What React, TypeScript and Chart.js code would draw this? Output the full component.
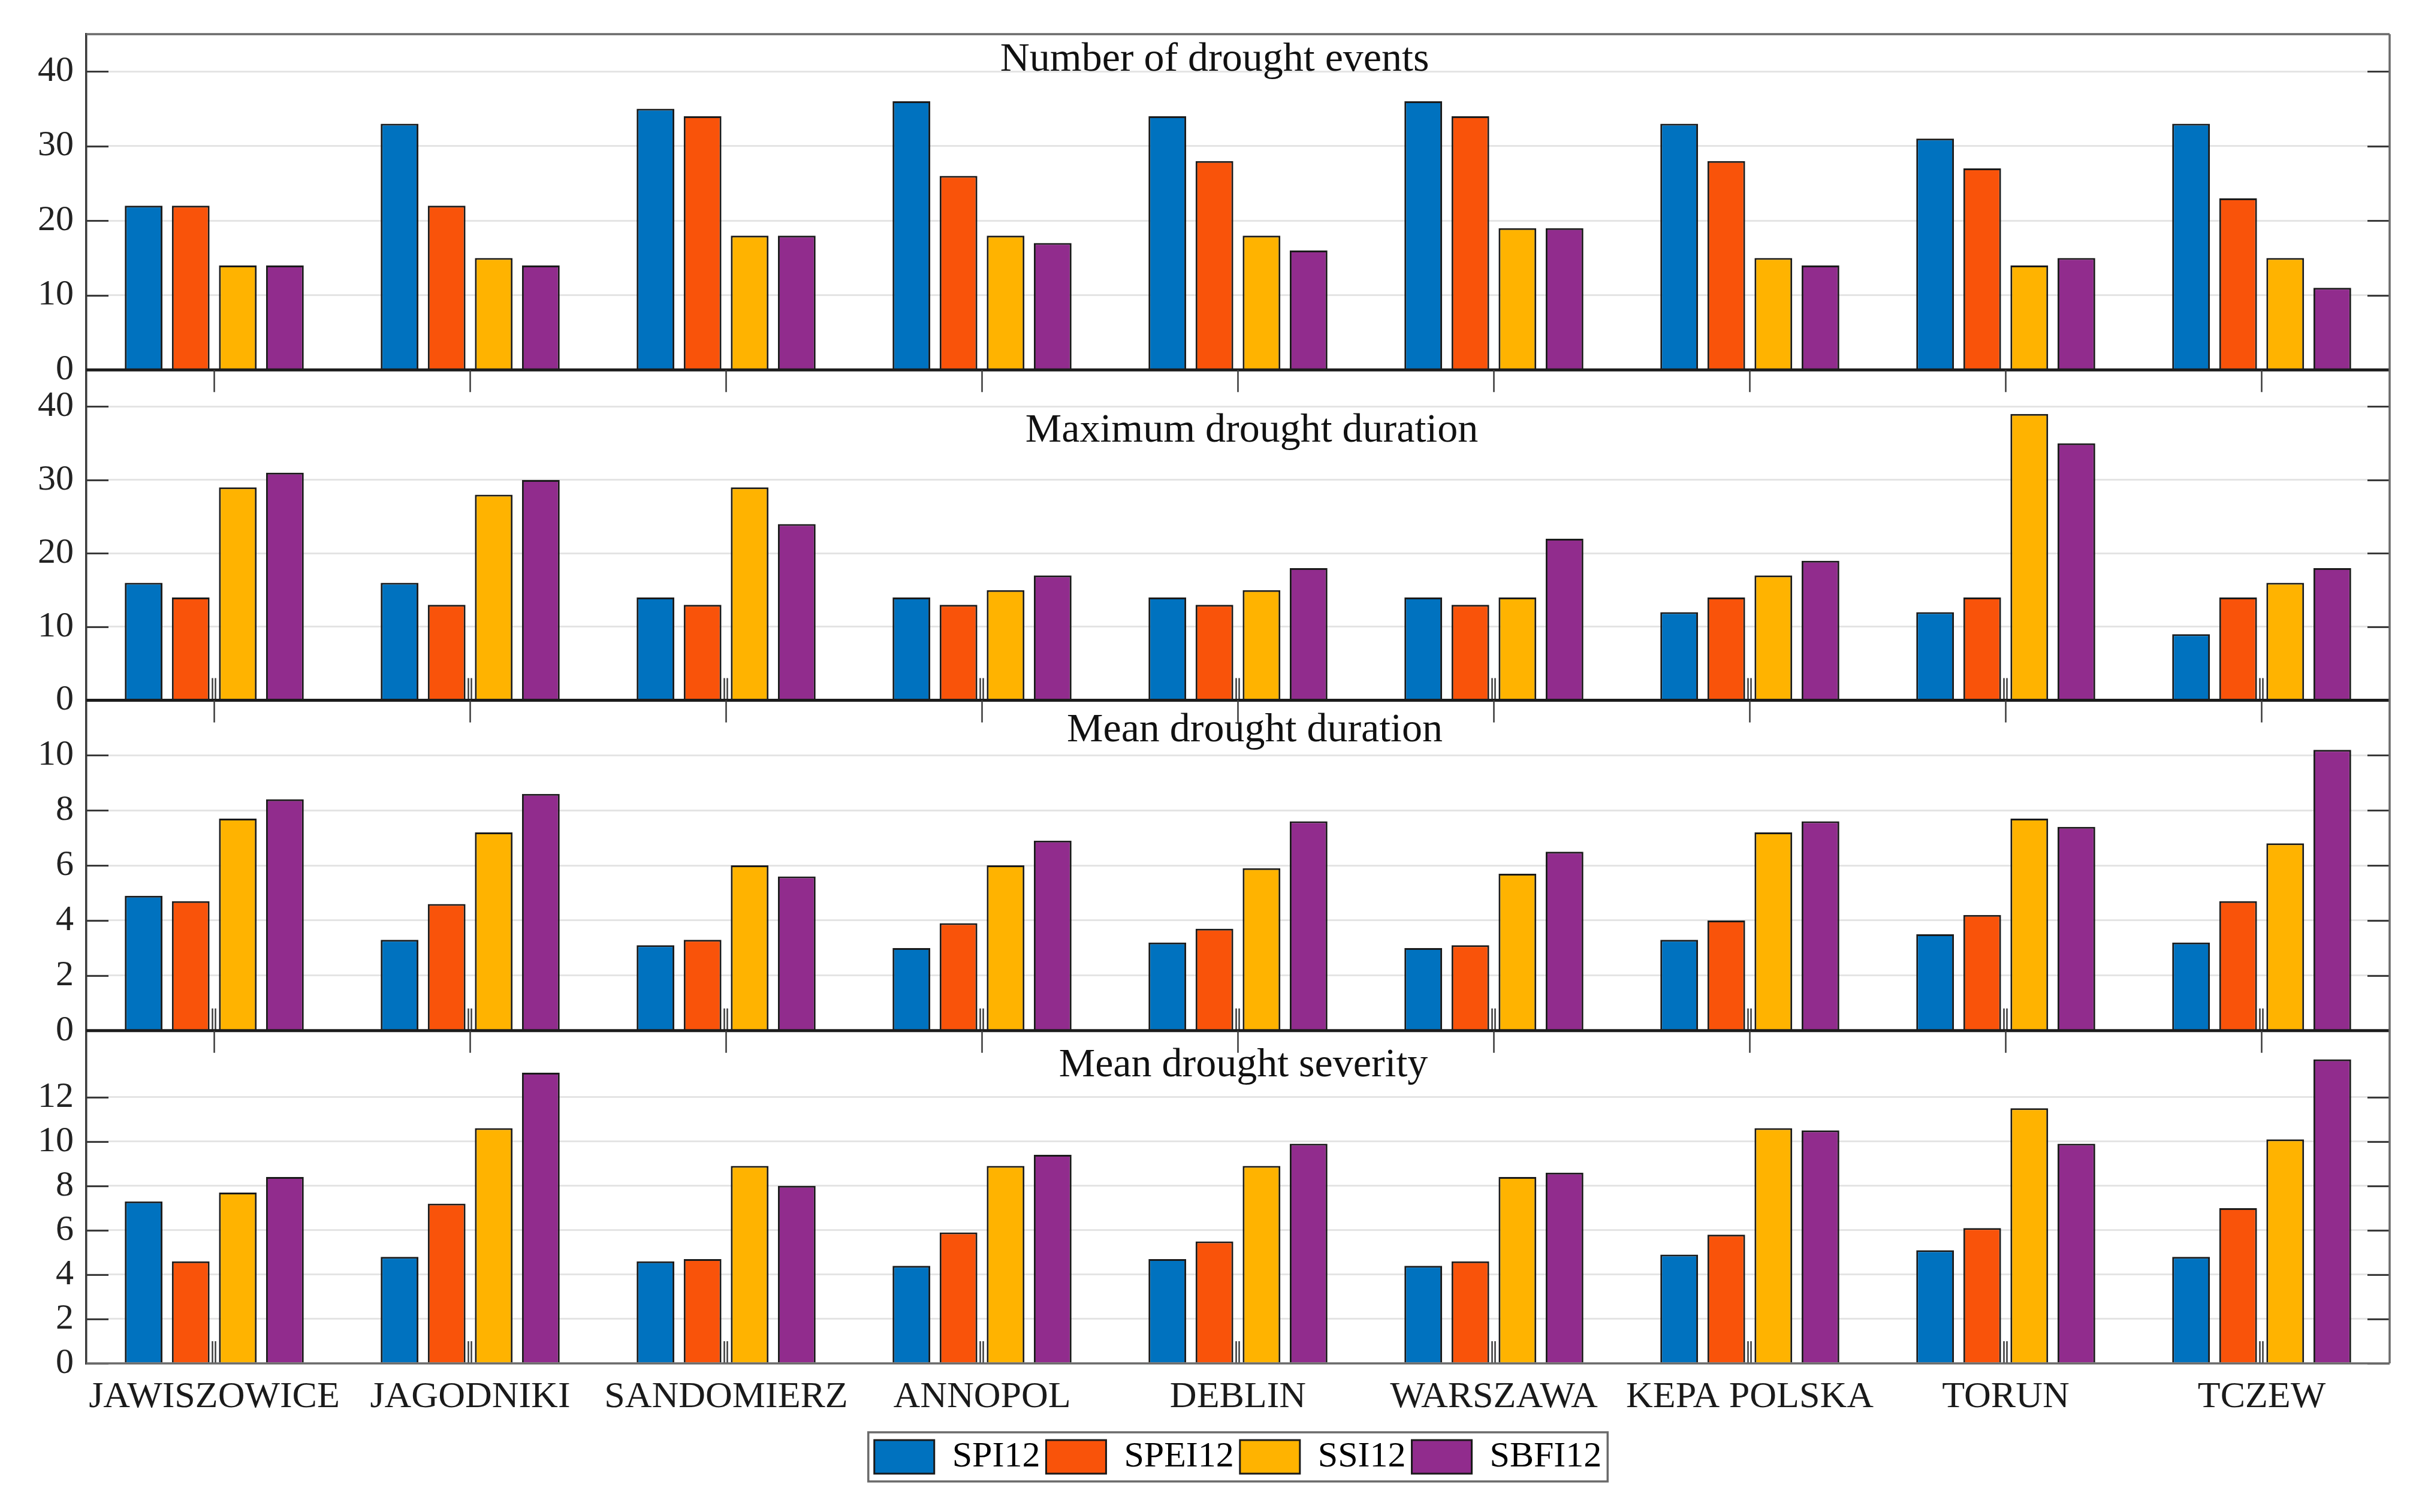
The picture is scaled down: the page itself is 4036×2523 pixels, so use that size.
import React, { useEffect, useRef } from "react";
import { Chart, registerables } from "chart.js";

Chart.register(...registerables);

// ---------------- data ----------------
const stations = [
  "JAWISZOWICE",
  "JAGODNIKI",
  "SANDOMIERZ",
  "ANNOPOL",
  "DEBLIN",
  "WARSZAWA",
  "KEPA POLSKA",
  "TORUN",
  "TCZEW",
];

const seriesNames = ["SPI12", "SPEI12", "SSI12", "SBFI12"];
const seriesColors = ["#0072BF", "#F9530A", "#FFB300", "#912C8D"];

const panelTitles = [
  "Number of drought events",
  "Maximum drought duration",
  "Mean drought duration",
  "Mean drought severity",
];

// Number of drought events
const eventsSPI12 = [22, 33, 35, 36, 34, 36, 33, 31, 33];
const eventsSPEI12 = [22, 22, 34, 26, 28, 34, 28, 27, 23];
const eventsSSI12 = [14, 15, 18, 18, 18, 19, 15, 14, 15];
const eventsSBFI12 = [14, 14, 18, 17, 16, 19, 14, 15, 11];

// Maximum drought duration
const maxDurSPI12 = [16, 16, 14, 14, 14, 14, 12, 12, 9];
const maxDurSPEI12 = [14, 13, 13, 13, 13, 13, 14, 14, 14];
const maxDurSSI12 = [29, 28, 29, 15, 15, 14, 17, 39, 16];
const maxDurSBFI12 = [31, 30, 24, 17, 18, 22, 19, 35, 18];

// Mean drought duration
const meanDurSPI12 = [4.9, 3.3, 3.1, 3.0, 3.2, 3.0, 3.3, 3.5, 3.2];
const meanDurSPEI12 = [4.7, 4.6, 3.3, 3.9, 3.7, 3.1, 4.0, 4.2, 4.7];
const meanDurSSI12 = [7.7, 7.2, 6.0, 6.0, 5.9, 5.7, 7.2, 7.7, 6.8];
const meanDurSBFI12 = [8.4, 8.6, 5.6, 6.9, 7.6, 6.5, 7.6, 7.4, 10.2];

// Mean drought severity
const severitySPI12 = [7.3, 4.8, 4.6, 4.4, 4.7, 4.4, 4.9, 5.1, 4.8];
const severitySPEI12 = [4.6, 7.2, 4.7, 5.9, 5.5, 4.6, 5.8, 6.1, 7.0];
const severitySSI12 = [7.7, 10.6, 8.9, 8.9, 8.9, 8.4, 10.6, 11.5, 10.1];
const severitySBFI12 = [8.4, 13.1, 8.0, 9.4, 9.9, 8.6, 10.5, 9.9, 13.7];

// Axis ranges and tick labels
const panelMax = [45, 45, 12, 15];
const eventsTicks = [0, 10, 20, 30, 40];
const maxDurTicks = [0, 10, 20, 30, 40];
const meanDurTicks = [0, 2, 4, 6, 8, 10];
const severityTicks = [0, 2, 4, 6, 8, 10, 12];

const panelValues = [
  [eventsSPI12, eventsSPEI12, eventsSSI12, eventsSBFI12],
  [maxDurSPI12, maxDurSPEI12, maxDurSSI12, maxDurSBFI12],
  [meanDurSPI12, meanDurSPEI12, meanDurSSI12, meanDurSBFI12],
  [severitySPI12, severitySPEI12, severitySSI12, severitySBFI12],
];
const panelTicks = [eventsTicks, maxDurTicks, meanDurTicks, severityTicks];

// ---------------- style ----------------
const FONT = "Liberation Serif";
const panelWeights = [561, 552, 552, 556];
const titleDx = [-39, 23, 28, 9];
const titleBaseline = [61, 120, 69, 76];
const TICK_LEN = 37;

Chart.defaults.font.family = FONT;

const decorPlugin = {
  id: "panelDecor",
  afterDatasetsDraw(chart: any) {
    const ctx = chart.ctx;
    const area = chart.chartArea;
    const xs = chart.scales.x;
    ctx.save();
    ctx.lineCap = "butt";
    for (let p = 0; p < 4; p++) {
      const s = chart.scales["y" + p];
      // inward y ticks on both sides
      ctx.strokeStyle = "#3a3a3a";
      ctx.lineWidth = 3;
      for (const v of panelTicks[p]) {
        const y = Math.round(s.getPixelForValue(v)) + 0.5;
        ctx.beginPath();
        ctx.moveTo(area.left, y);
        ctx.lineTo(area.left + TICK_LEN, y);
        ctx.moveTo(area.right, y);
        ctx.lineTo(area.right - TICK_LEN, y);
        ctx.stroke();
      }
      // inward category ticks (panels 2-4)
      if (p > 0) {
        ctx.strokeStyle = "#3a3a3a";
        ctx.lineWidth = 2.5;
        for (let j = 0; j < stations.length; j++) {
          const x = xs.getPixelForValue(j);
          ctx.beginPath();
          ctx.moveTo(x, s.top);
          ctx.lineTo(x, s.top + TICK_LEN);
          ctx.moveTo(x - 3, s.bottom);
          ctx.lineTo(x - 3, s.bottom - TICK_LEN);
          ctx.moveTo(x + 2, s.bottom);
          ctx.lineTo(x + 2, s.bottom - TICK_LEN);
          ctx.stroke();
        }
      }
      // baseline
      ctx.beginPath();
      if (p < 3) {
        ctx.strokeStyle = "#1c1c1c";
        ctx.lineWidth = 5;
      } else {
        ctx.strokeStyle = "#6a6a6a";
        ctx.lineWidth = 3.5;
      }
      ctx.moveTo(area.left, s.bottom);
      ctx.lineTo(area.right, s.bottom);
      ctx.stroke();
      // title
      ctx.fillStyle = "#111111";
      ctx.font = "68px " + FONT;
      ctx.textAlign = "center";
      ctx.textBaseline = "alphabetic";
      ctx.fillText(
        panelTitles[p],
        (area.left + area.right) / 2 + titleDx[p],
        s.top + titleBaseline[p]
      );
    }
    // top and right border
    ctx.strokeStyle = "#6a6a6a";
    ctx.lineWidth = 3.5;
    ctx.beginPath();
    ctx.moveTo(area.left, area.top);
    ctx.lineTo(area.right, area.top);
    ctx.moveTo(area.right, area.top);
    ctx.lineTo(area.right, area.bottom);
    ctx.stroke();
    ctx.restore();
  },
  afterDraw(chart: any) {
    const lg = chart.legend;
    if (!lg || !lg.legendHitBoxes || !lg.legendHitBoxes.length) return;
    const hb = lg.legendHitBoxes;
    let l = Infinity, r = -Infinity, t = Infinity, b = -Infinity;
    for (const h of hb) {
      l = Math.min(l, h.left);
      r = Math.max(r, h.left + h.width);
      t = Math.min(t, h.top);
      b = Math.max(b, h.top + h.height);
    }
    const ctx = chart.ctx;
    ctx.save();
    ctx.strokeStyle = "#6a6a6a";
    ctx.lineWidth = 3.5;
    ctx.strokeRect(l - 10, t - 11, r - l + 20, b - t + 22);
    ctx.restore();
  },
};

export default function App() {
  const canvasRef = useRef<HTMLCanvasElement | null>(null);

  useEffect(() => {
    if (!canvasRef.current) return;

    const datasets: any[] = [];
    for (let p = 0; p < 4; p++) {
      for (let s = 0; s < 4; s++) {
        datasets.push({
          label: seriesNames[s],
          data: panelValues[p][s],
          yAxisID: "y" + p,
          stack: seriesNames[s],
          backgroundColor: seriesColors[s],
          borderColor: "#1a1a1a",
          borderWidth: 3,
          barPercentage: 0.8,
          categoryPercentage: 0.736,
        });
      }
    }

    const yScale = (p: number) => ({
      type: "linear",
      position: "left",
      stack: "panels",
      stackWeight: panelWeights[p],
      stacked: false,
      min: 0,
      max: panelMax[p],
      afterBuildTicks: (s: any) => {
        s.ticks = panelTicks[p].map((v) => ({ value: v }));
      },
      afterFit: (s: any) => {
        s.width = 144;
      },
      grid: { color: "#e4e4e4", lineWidth: 3, drawTicks: false },
      border: { display: true, color: "#3a3a3a", width: 3.5 },
      ticks: {
        font: { family: FONT, size: 60 },
        color: "#222222",
        padding: 21,
        autoSkip: false,
      },
    });

    // stacked axes are laid out bottom-up in definition order,
    // so the last panel is defined first
    const scales: any = {
      x: {
        type: "category",
        grid: { display: false, drawTicks: false },
        border: { display: false },
        ticks: {
          font: { family: FONT, size: 62 },
          color: "#1a1a1a",
          padding: 20,
          autoSkip: false,
          maxRotation: 0,
        },
        afterFit: (s: any) => {
          s.height = 116;
        },
      },
    };
    scales.y3 = yScale(3);
    scales.y2 = yScale(2);
    scales.y1 = yScale(1);
    scales.y0 = yScale(0);

    const chart = new Chart(canvasRef.current, {
      type: "bar",
      data: { labels: stations, datasets },
      plugins: [decorPlugin],
      options: {
        animation: false,
        responsive: true,
        maintainAspectRatio: false,
        devicePixelRatio: 1,
        layout: { padding: { top: 54, right: 49, left: 0, bottom: 52 } },
        plugins: {
          title: { display: false },
          tooltip: { enabled: false },
          legend: {
            display: true,
            position: "bottom",
            fullSize: false,
            labels: {
              font: { family: FONT, size: 60 },
              color: "#000000",
              boxWidth: 100,
              boxHeight: 56,
              padding: 10,
              filter: (item: any) => item.datasetIndex < 4,
            },
          },
        },
        scales,
      },
    } as any);

    return () => {
      chart.destroy();
    };
  }, []);

  return (
    <div
      style={{
        position: "fixed",
        left: 0,
        top: 0,
        width: 4036,
        height: 2523,
        background: "#ffffff",
      }}
    >
      <canvas ref={canvasRef} />
    </div>
  );
}
